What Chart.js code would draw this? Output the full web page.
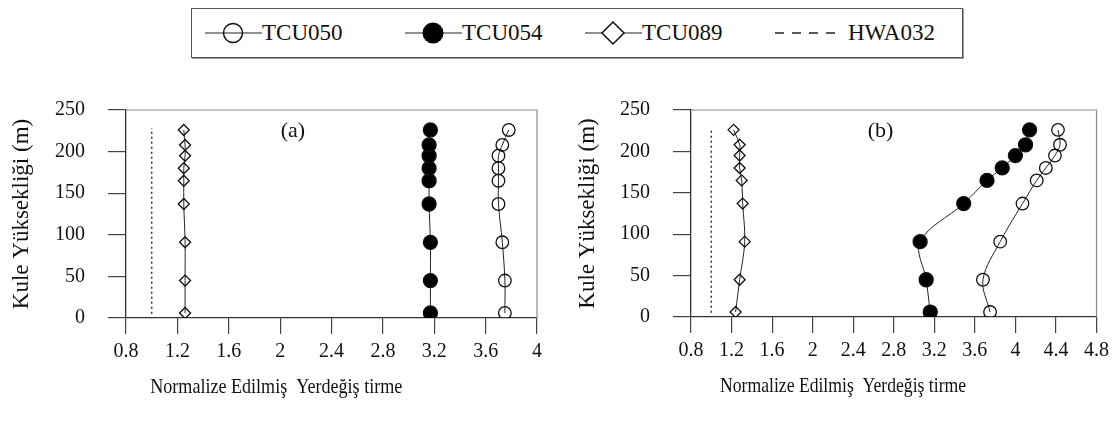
<!DOCTYPE html>
<html>
<head>
<meta charset="utf-8">
<script src="https://cdn.jsdelivr.net/npm/chart.js@4.4.1/dist/chart.umd.min.js"></script>
<style>
    body { margin: 0; background: #fff; font-family: "Liberation Serif", "DejaVu Serif", "Times New Roman", serif; }
    #page { position: relative; width: 1115px; height: 424px; overflow: hidden; }
    .panel { position: absolute; top: 75px; width: 555px; height: 349px; }
    #legend { position: absolute; left: 191px; top: 8px; height: 48px; width: 770px;
        border: 1px solid #555; box-shadow: 1px 1px 0 #999; font-size: 23px; color: #111; }
    #legend .item { position: absolute; top: 9px; display: flex; align-items: center; height: 30px; }
    #legend svg { display: block; }
</style>
</head>
<body>
<div id="page">
    <div id="legend"></div>
    <div class="panel" style="left:0"><canvas id="chartA" width="555" height="349"></canvas></div>
    <div class="panel" style="left:560px"><canvas id="chartB" width="555" height="349"></canvas></div>
</div>
<script>
// tower heights (m), same for every station
const heights = [6, 45, 91, 137, 165, 180, 195, 208, 226];
const hwaHeights = [5, 228];

const seriesNames = ["TCU050", "TCU054", "TCU089", "HWA032"];

// (a)
const tcu050A = [3.75, 3.75, 3.73, 3.70, 3.70, 3.70, 3.70, 3.73, 3.78];
const tcu054A = [3.17, 3.17, 3.17, 3.16, 3.16, 3.16, 3.16, 3.16, 3.17];
const tcu089A = [1.26, 1.26, 1.26, 1.25, 1.25, 1.25, 1.26, 1.26, 1.25];
const hwa032A = [1.0, 1.0];

// (b)
const tcu050B = [3.75, 3.68, 3.85, 4.07, 4.21, 4.30, 4.39, 4.44, 4.42];
const tcu054B = [3.16, 3.12, 3.06, 3.49, 3.72, 3.87, 4.00, 4.10, 4.14];
const tcu089B = [1.24, 1.28, 1.33, 1.31, 1.30, 1.28, 1.28, 1.28, 1.22];
const hwa032B = [1.0, 1.0];

const xTicksA = [0.8, 1.2, 1.6, 2, 2.4, 2.8, 3.2, 3.6, 4];
const xTicksB = [0.8, 1.2, 1.6, 2, 2.4, 2.8, 3.2, 3.6, 4, 4.4, 4.8];
const yTicks = [0, 50, 100, 150, 200, 250];

const xTitle = "Normalize Edilmiş  Yerdeğiş tirme";
const yTitle = "Kule Yüksekliği (m)";

const ink = "#111";
const fontFamily = "'Liberation Serif', 'DejaVu Serif', 'Times New Roman', serif";

function toPoints(xs, ys) {
    return xs.map((v, i) => ({ x: v, y: ys[i] }));
}

// top and right edge of the plot box
const boxEdges = {
    id: "boxEdges",
    beforeDatasetsDraw(chart) {
        let a = chart.chartArea, ctx = chart.ctx;
        ctx.save();
        ctx.strokeStyle = "#8a8a8a";
        ctx.lineWidth = 1.2;
        ctx.beginPath();
        ctx.moveTo(a.left, a.top);
        ctx.lineTo(a.right, a.top);
        ctx.lineTo(a.right, a.bottom);
        ctx.stroke();
        ctx.restore();
    }
};

// panel tag "(a)"/"(b)" and the x axis title, which sits left of centre in the original
const panelText = {
    id: "panelText",
    afterDatasetsDraw(chart, args, opts) {
        let ctx = chart.ctx, sx = chart.scales.x, sy = chart.scales.y;
        ctx.save();
        ctx.fillStyle = ink;
        ctx.textAlign = "center";
        ctx.textBaseline = "middle";
        ctx.font = "22px " + fontFamily;
        ctx.fillText(opts.label, sx.getPixelForValue(opts.labelX), sy.getPixelForValue(opts.labelY));
        // the original title is a little condensed
        ctx.font = "21px " + fontFamily;
        ctx.fillText(xTitle, sx.getPixelForValue(opts.titleX), chart.chartArea.bottom + 69, opts.titleWidth);
        ctx.restore();
    }
};

function makeChart(id, p) {
    let lineStyle = { borderColor: "#222", borderWidth: 1, tension: 0.35, pointBorderWidth: 1.3, pointBorderColor: "#111" };
    let hollow = "rgba(255,255,255,0)";
    return new Chart(document.getElementById(id), {
        type: "line",
        data: {
            datasets: [
                Object.assign({ label: seriesNames[0], data: toPoints(p.s050, heights), pointStyle: "circle", pointRadius: 6.3, pointBackgroundColor: hollow }, lineStyle),
                Object.assign({ label: seriesNames[1], data: toPoints(p.s054, heights), pointStyle: "circle", pointRadius: 7, pointBackgroundColor: "#000" }, lineStyle),
                Object.assign({ label: seriesNames[2], data: toPoints(p.s089, heights), pointStyle: "rectRot", pointRadius: 5.5, pointBackgroundColor: hollow }, lineStyle),
                { label: seriesNames[3], data: toPoints(p.hwa, hwaHeights), borderColor: "#333", borderWidth: 1.5, borderDash: [2, 3], pointRadius: 0, tension: 0 }
            ]
        },
        options: {
            responsive: false,
            animation: false,
            events: [],
            layout: { padding: { top: p.top, right: p.right, left: 0, bottom: 0 } },
            plugins: {
                legend: { display: false },
                tooltip: { enabled: false },
                panelText: { label: p.label, labelX: p.labelX, labelY: 224, titleX: p.titleX, titleWidth: p.titleWidth }
            },
            scales: {
                x: {
                    type: "linear",
                    min: p.xTicks[0],
                    max: p.xTicks[p.xTicks.length - 1],
                    afterBuildTicks: s => { s.ticks = p.xTicks.map(v => ({ value: v })); },
                    afterFit: s => { s.height = p.xHeight; },
                    grid: { drawOnChartArea: false, tickLength: 16, color: "#444", lineWidth: 1.2 },
                    border: { color: "#333", width: 1.3 },
                    ticks: { padding: 6, color: ink, font: { family: fontFamily, size: 20 }, maxRotation: 0, autoSkip: false,
                        callback: v => String(Math.round(v * 10) / 10) }
                },
                y: {
                    type: "linear",
                    min: 0,
                    max: 250,
                    afterBuildTicks: s => { s.ticks = yTicks.map(v => ({ value: v })); },
                    afterFit: s => { s.width = p.yWidth; },
                    grid: { drawOnChartArea: false, tickLength: 18, color: "#444", lineWidth: 1.2 },
                    border: { color: "#333", width: 1.3 },
                    ticks: { padding: 23, color: ink, font: { family: fontFamily, size: 20 } },
                    title: { display: true, text: yTitle, color: ink, font: { family: fontFamily, size: 23 }, padding: { top: p.yTitlePad, bottom: 0 } }
                }
            }
        },
        plugins: [boxEdges, panelText]
    });
}

makeChart("chartA", { s050: tcu050A, s054: tcu054A, s089: tcu089A, hwa: hwa032A, xTicks: xTicksA,
    top: 5, right: 18, xHeight: 106, yWidth: 126, yTitlePad: 8.2, label: "(a)", labelX: 2.1, titleX: 1.97, titleWidth: 252 });
makeChart("chartB", { s050: tcu050B, s054: tcu054B, s089: tcu089B, hwa: hwa032B, xTicks: xTicksB,
    top: 3, right: 5, xHeight: 107, yWidth: 131, yTitlePad: 14.2, label: "(b)", labelX: 2.67, titleX: 2.3, titleWidth: 246 });

// shared legend across the top
let legendLefts = [13, 213, 393, 583];
let symbols = [
    '<circle cx="28" cy="15" r="9.5" fill="none" stroke="#111" stroke-width="1.5"/>',
    '<circle cx="28" cy="15" r="10.5" fill="#000"/>',
    '<path d="M28 4 L39 15 L28 26 L17 15 Z" fill="#fff" stroke="#111" stroke-width="1.5"/>',
    ''
];
let legendHtml = "";
seriesNames.forEach((name, i) => {
    let line = i < 3
        ? '<line x1="0" y1="15" x2="57" y2="15" stroke="#222" stroke-width="1.2"/>'
        : '<line x1="0" y1="15" x2="64" y2="15" stroke="#222" stroke-width="1.3" stroke-dasharray="9,8"/>';
    let w = i < 3 ? 57 : 73;
    legendHtml += `<div class="item" style="left:${legendLefts[i]}px"><svg width="${w}" height="30">${line}${symbols[i]}</svg><span>${name}</span></div>`;
});
document.getElementById("legend").innerHTML = legendHtml;
</script>
</body>
</html>
